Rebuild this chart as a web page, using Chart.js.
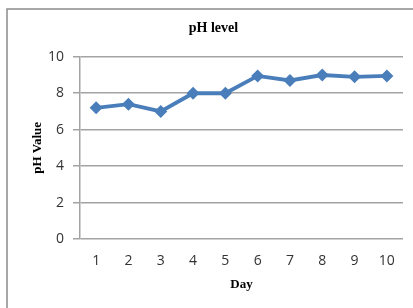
<!DOCTYPE html>
<html>
<head>
<meta charset="utf-8">
<script src="https://cdn.jsdelivr.net/npm/chart.js@4"></script>
<style>
  html, body { margin: 0; padding: 0; background: #fff; }
  #wrap { width: 413px; height: 308px; position: relative; }
</style>
</head>
<body>
<div id="wrap"><canvas id="phChart"></canvas></div>
<script>
const days = ["1", "2", "3", "4", "5", "6", "7", "8", "9", "10"];
const phValues = [7.2, 7.4, 7.0, 8.0, 8.0, 8.95, 8.7, 9.0, 8.9, 8.95];
const yTicks = [0, 2, 4, 6, 8, 10];

const gridGray = "#a3a3a3";
const serifBold = { family: "'Liberation Serif', 'DejaVu Serif', serif", size: 13, weight: "bold" };
const tickFont = { family: "'Open Sans', 'Liberation Sans', sans-serif", size: 14 };

// outer frame of the chart object, as in the source image
const framePlugin = {
  id: "frame",
  beforeDraw(chart) {
    const ctx = chart.ctx;
    ctx.save();
    ctx.fillStyle = "#fff";
    ctx.fillRect(0, 0, chart.width, chart.height);
    ctx.strokeStyle = "#8c8c8c";
    ctx.lineWidth = 1.5;
    ctx.beginPath();
    ctx.moveTo(7, chart.height + 2);
    ctx.lineTo(7, 9);
    ctx.lineTo(chart.width + 2, 9);
    ctx.stroke();
    ctx.restore();
  },
};

new Chart(document.getElementById("phChart"), {
  type: "line",
  data: {
    labels: days,
    datasets: [
      {
        label: "pH",
        data: phValues,
        borderColor: "#4a7ebb",
        backgroundColor: "#4a7ebb",
        borderWidth: 3.8,
        pointStyle: "rectRot",
        pointRadius: 6.5,
        pointBorderWidth: 0,
        tension: 0,
      },
    ],
  },
  options: {
    responsive: true,
    maintainAspectRatio: false,
    animation: false,
    layout: { padding: { left: 24, right: 10, top: 12, bottom: 16 } },
    plugins: {
      legend: { display: false },
      tooltip: { enabled: false },
      title: {
        display: true,
        text: "pH level",
        color: "#000",
        font: { ...serifBold, size: 14 },
        padding: { top: 8, bottom: 20 },
      },
    },
    scales: {
      x: {
        offset: true,
        afterFit(scale) {
          scale.height = 53;
        },
        grid: { display: false, drawTicks: false },
        border: { display: false },
        ticks: { color: "#333", font: tickFont, padding: 14, maxRotation: 0 },
        title: {
          display: true,
          text: "Day",
          color: "#000",
          font: serifBold,
          padding: 0,
        },
      },
      y: {
        min: 0,
        max: 10,
        afterFit(scale) {
          scale.width = 56;
        },
        afterBuildTicks(scale) {
          scale.ticks = yTicks.map((v) => ({ value: v }));
        },
        grid: { color: gridGray, lineWidth: 1.5, tickLength: 7 },
        border: { color: gridGray, width: 1.5 },
        ticks: { color: "#333", font: tickFont, padding: 9 },
        title: {
          display: true,
          text: "pH Value",
          color: "#000",
          font: serifBold,
          padding: { top: 6, bottom: 0 },
        },
      },
    },
  },
  plugins: [framePlugin],
});
</script>
</body>
</html>
